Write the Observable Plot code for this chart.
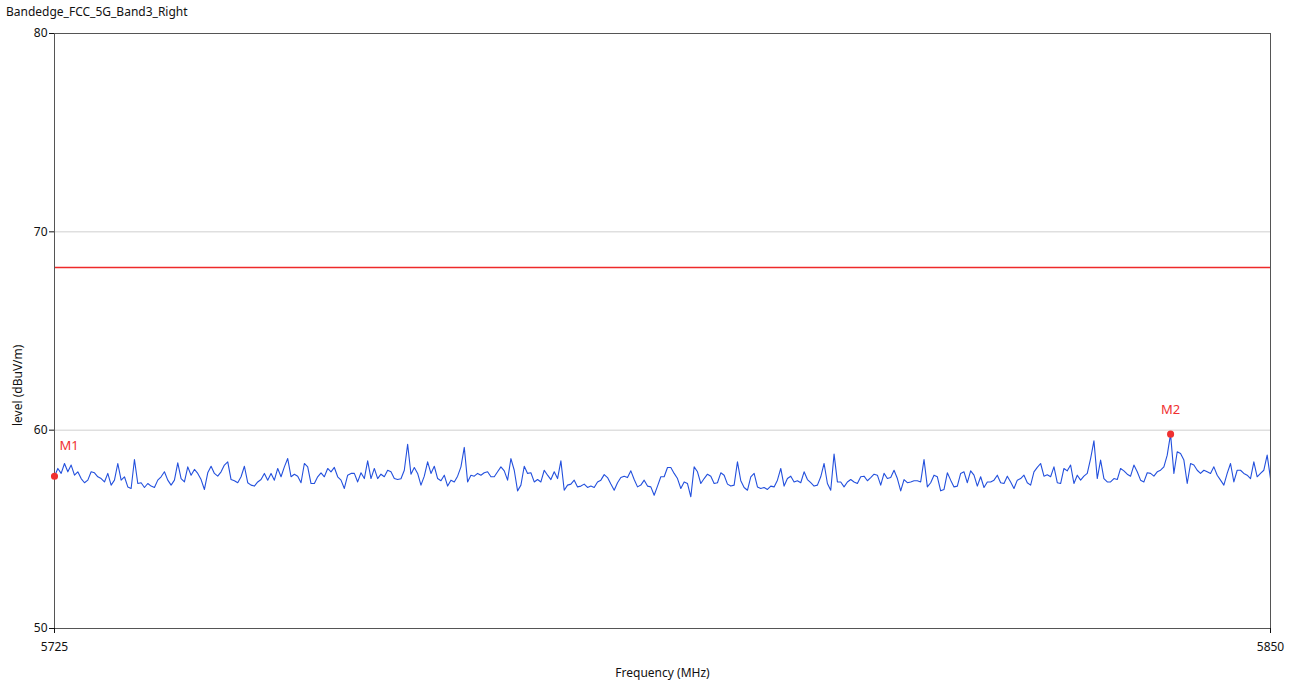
<!DOCTYPE html>
<html><head><meta charset="utf-8">
<script src="https://cdn.jsdelivr.net/npm/d3@7"></script>
<script src="https://cdn.jsdelivr.net/npm/@observablehq/plot@0.6"></script>
<style>
body{margin:0;background:#fff;font-family:"Noto Sans",sans-serif;}
#wrap{position:relative;width:1296px;height:684px;}
#title{position:absolute;left:6px;top:3px;font-size:12px;color:#111;white-space:nowrap;}
#chart{position:absolute;left:0;top:0;}
</style></head><body>
<div id="wrap"><div id="chart"></div><div id="title"></div></div>
<script>
const chartTitle = "Bandedge_FCC_5G_Band3_Right";
const xLabel = "Frequency (MHz)";
const yLabel = "level (dBuV/m)";
const sweepStart = 5725;
const sweepStop = 5850;
const xTicks = [5725, 5850];
const yTicks = [50, 60, 70, 80];
const gridLevels = [60, 70];
const limitLevel = 68.2;
const markerNames = ["M1", "M2"];
const markerFreqs = [5725, 5839.73];
const markerLevels = [57.68, 59.80];
// trace levels (dBuV/m), equally spaced sweep points from sweepStart to sweepStop
const traceLevels = [
57.68,58.07,57.82,58.32,57.90,58.24,57.73,57.90,57.56,57.35,57.48,57.90,57.85,57.65,57.56,57.39,57.82,57.23,57.48,58.32,57.48,57.65,57.14,57.06,58.52,57.31,57.35,57.11,57.31,57.18,57.11,57.48,
57.65,57.90,57.48,57.23,57.48,58.35,57.56,57.39,58.15,57.73,58.02,57.82,57.51,57.01,57.85,58.18,57.82,57.68,57.90,58.24,58.40,57.51,57.45,57.35,57.65,58.18,57.35,57.23,57.18,57.39,57.51,57.82,57.48,
57.82,57.48,58.07,57.65,58.15,58.57,57.65,57.78,57.68,57.35,58.32,58.15,57.31,57.31,57.65,57.85,57.65,58.07,57.90,58.12,57.65,57.48,57.06,57.73,57.82,57.82,57.39,57.85,57.56,58.45,57.56,58.07,57.56,
57.78,57.65,57.98,57.90,57.56,57.51,57.55,57.98,59.29,57.78,58.12,57.82,57.23,57.68,58.40,57.82,58.18,57.56,57.45,57.73,57.18,57.48,57.39,57.68,58.15,59.13,57.39,57.73,57.68,57.82,57.73,57.85,57.90,
57.65,57.65,57.90,58.15,57.95,57.48,58.57,57.98,56.94,57.23,58.18,57.82,57.85,57.39,57.51,57.39,57.98,57.73,57.51,57.90,57.56,58.45,56.97,57.23,57.28,57.48,57.14,57.18,57.28,57.11,57.18,57.11,57.39,
57.48,57.76,57.61,57.28,56.97,57.35,57.61,57.68,57.61,57.95,57.51,57.14,57.23,57.48,57.18,57.14,56.72,57.18,57.65,57.65,58.12,58.12,57.82,57.56,57.06,57.39,57.31,56.64,58.15,57.90,57.31,57.56,57.78,
57.68,57.31,57.35,57.85,57.73,57.28,57.18,57.23,58.40,57.45,57.11,56.97,57.65,57.82,57.14,57.06,57.11,57.01,57.18,57.14,57.48,58.07,57.18,57.56,57.68,57.39,57.45,57.35,57.90,57.51,57.35,57.18,57.23,
57.65,58.32,57.31,56.97,58.79,57.39,57.39,57.14,57.39,57.51,57.39,57.31,57.65,57.68,57.45,57.61,57.78,57.73,57.23,57.82,57.56,57.61,57.98,57.56,56.94,57.51,57.35,57.39,57.45,57.45,57.39,58.52,57.14,
57.35,57.73,57.65,56.94,57.01,57.85,57.48,57.14,57.18,57.82,57.90,57.35,57.95,57.73,57.18,57.65,57.11,57.39,57.39,57.48,57.73,57.35,57.31,57.68,57.39,57.06,57.48,57.56,57.73,57.35,57.23,57.90,58.12,
58.32,57.68,57.75,57.65,58.15,57.35,57.31,58.07,57.95,58.24,57.31,57.73,57.48,57.68,57.82,58.57,59.46,57.56,58.49,57.56,57.39,57.39,57.56,57.51,58.07,57.95,57.78,57.68,58.24,57.90,57.48,57.39,57.85,
57.82,57.68,57.90,57.98,58.15,58.74,59.80,57.82,58.91,58.82,58.49,57.31,58.32,58.24,57.98,57.82,57.98,57.90,57.82,58.15,57.73,57.48,57.23,57.82,58.32,57.39,57.98,57.98,57.82,57.73,57.56,58.40,57.65,57.82,57.98,58.74,57.56
];

document.getElementById("title").textContent = chartTitle;

const n = traceLevels.length;
const trace = traceLevels.map((v, i) => ({f: sweepStart + i * (sweepStop - sweepStart) / (n - 1), v}));
const markers = markerNames.map((name, i) => ({name, f: markerFreqs[i], v: markerLevels[i]}));

const fontFamily = '"Noto Sans", sans-serif';
const chart = Plot.plot({
  width: 1296,
  height: 684,
  marginLeft: 54,
  marginRight: 26,
  marginTop: 33,
  marginBottom: 56,
  style: {fontFamily, fontSize: "12px", color: "#111", background: "#fff"},
  x: {domain: [sweepStart, sweepStop], ticks: xTicks, tickFormat: d => String(d)},
  y: {domain: [50, 80], ticks: yTicks, tickFormat: d => String(d)},
  marks: [
    Plot.ruleY(gridLevels, {stroke: "#cfcfcf", strokeWidth: 1}),
    Plot.ruleY([limitLevel], {stroke: "#ee2a2a", strokeWidth: 1.6}),
    Plot.line(trace, {x: "f", y: "v", stroke: "#2350dd", strokeWidth: 1.1}),
    Plot.frame({stroke: "#555", strokeWidth: 1}),
    Plot.axisY({ticks: yTicks, tickSize: 5, tickPadding: 2, label: null, fontSize: 12, tickFormat: d => String(d)}),
    Plot.axisX({ticks: xTicks, tickSize: 5, tickPadding: 9, label: null, fontSize: 12, tickFormat: d => String(d)}),
    Plot.text([xLabel], {text: d => d, frameAnchor: "bottom", dy: 48, fontSize: 12, fill: "#111"}),
    Plot.text([yLabel], {text: d => d, frameAnchor: "left", rotate: -90, dx: -36, dy: 95, fontSize: 12, fill: "#111"}),
    Plot.dot(markers, {x: "f", y: "v", r: 2.8, fill: "#f03030", stroke: "#f03030"}),
    Plot.text(markers.filter(d => d.name === "M1"), {x: "f", y: "v", text: "name", dx: 5, dy: -30, textAnchor: "start", fill: "#f03030", fontSize: 13}),
    Plot.text(markers.filter(d => d.name === "M2"), {x: "f", y: "v", text: "name", dy: -24, fill: "#f03030", fontSize: 13})
  ]
});
document.getElementById("chart").appendChild(chart);
</script>
</body></html>
